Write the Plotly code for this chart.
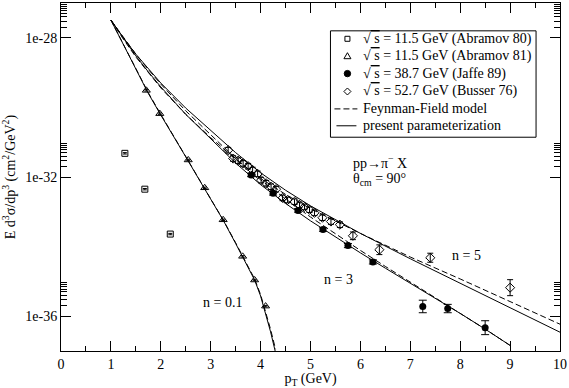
import plotly.graph_objects as go

FONT = "Liberation Serif, Times New Roman, serif"

# ---- data ----
# Abramov 80, sqrt(s)=11.5 GeV
ab80_pt = [1.28, 1.68, 2.19]
ab80_log = [-31.32, -32.35, -33.64]
# Abramov 81, sqrt(s)=11.5 GeV
ab81_pt = [1.71, 1.98, 2.55, 2.88, 3.25, 3.64, 3.88, 4.10]
ab81_log = [-29.51, -30.18, -31.51, -32.31, -33.23, -34.28, -34.96, -35.71]
# Jaffe 89, sqrt(s)=38.7 GeV
jaf_pt = [3.81, 4.25, 4.75, 5.25, 5.75, 6.25, 7.25, 7.75, 8.5]
jaf_log = [-31.94, -32.47, -32.96, -33.51, -33.97, -34.44, -35.72, -35.78, -36.33]
jaf_err = [0.05, 0.05, 0.05, 0.05, 0.06, 0.06, 0.18, 0.12, 0.20]
# Busser 76, sqrt(s)=52.7 GeV
bus_pt = [3.35, 3.45, 3.55, 3.65, 3.75, 3.84, 3.94, 4.01, 4.11, 4.21, 4.31, 4.44, 4.54,
          4.68, 4.78, 4.88, 4.98, 5.08, 5.24, 5.41, 5.59, 5.85, 6.38, 7.4, 9.0]
bus_log = [-31.23, -31.47, -31.53, -31.61, -31.69, -31.80, -31.91, -32.09, -32.18, -32.28,
           -32.35, -32.60, -32.66, -32.71, -32.80, -32.86, -32.94, -33.03, -33.17, -33.28,
           -33.37, -33.69, -34.09, -34.32, -35.18]
bus_err = [0.08] * 21 + [0.11, 0.14, 0.13, 0.23]

# curves n = 0.1
n01_pt = [1.0, 1.25, 1.5, 1.75, 2.0, 2.25, 2.5, 2.75, 3.0, 3.25, 3.5, 3.75, 3.88, 4.0, 4.1, 4.2, 4.3]
n01_solid_log = [-27.49, -28.2, -28.9, -29.6, -30.22, -30.84, -31.42, -32.03, -32.64, -33.24,
                 -33.91, -34.58, -34.96, -35.42, -35.9, -36.45, -37.05]
n01_dash_log = [-27.49, -28.19, -28.89, -29.58, -30.2, -30.82, -31.41, -32.02, -32.63, -33.23,
                -33.89, -34.55, -34.93, -35.38, -35.85, -36.38, -36.95]
# curves n = 3
n3_pt = [1.0, 1.25, 1.5, 1.75, 2.0, 2.5, 3.0, 3.5, 4.0, 4.5, 5.0, 5.5, 6.0, 6.5, 7.0, 7.5, 8.0, 8.5, 9.0]
n3_solid_log = [-27.49, -28.02, -28.52, -28.98, -29.41, -30.2, -30.91, -31.6, -32.22, -32.76,
                -33.26, -33.73, -34.18, -34.62, -35.05, -35.48, -35.92, -36.37, -36.84]
n3_dash_log = [-27.49, -27.99, -28.47, -28.91, -29.33, -30.1, -30.79, -31.47, -32.08, -32.63,
               -33.15, -33.64, -34.11, -34.57, -35.02, -35.46, -35.91, -36.37, -36.84]
# curves n = 5
n5_pt = [1.0, 1.25, 1.5, 1.75, 2.0, 2.5, 3.0, 3.5, 4.0, 4.5, 5.0, 6.0, 7.0, 8.0, 9.0, 10.0]
n5_solid_log = [-27.49, -28.0, -28.47, -28.9, -29.3, -30.02, -30.67, -31.3, -31.88, -32.38,
                -32.83, -33.62, -34.35, -35.05, -35.75, -36.46]
n5_dash_log = [-27.49, -28.04, -28.55, -29.01, -29.44, -30.2, -30.87, -31.49, -32.04, -32.5,
               -32.91, -33.62, -34.3, -34.93, -35.57, -36.23]

y_tick_vals = [1e-36, 1e-32, 1e-28]
y_tick_text = ["1e-36", "1e-32", "1e-28"]
x_tick_vals = list(range(0, 11))

SQ = "√<span style='text-decoration:overline'> s</span>"
legend_labels = [SQ + " = 11.5 GeV (Abramov 80)", SQ + " = 11.5 GeV (Abramov 81)",
                 SQ + " = 38.7 GeV (Jaffe 89)", SQ + " = 52.7 GeV (Busser 76)",
                 "Feynman-Field model", "present parameterization"]


def lin(logs):
    return [10 ** v for v in logs]


def errs(logs, e):
    up = [10 ** v * (10 ** d - 1) for v, d in zip(logs, e)]
    dn = [10 ** v * (1 - 10 ** (-d)) for v, d in zip(logs, e)]
    return up, dn


fig = go.Figure()

SOLID = dict(color="black", width=1)
DASH = dict(color="black", width=1, dash="6px,3px")

# curves
for xs, ys, ln in [(n01_pt, n01_dash_log, DASH), (n3_pt, n3_dash_log, DASH), (n5_pt, n5_dash_log, DASH),
                   (n01_pt, n01_solid_log, SOLID), (n3_pt, n3_solid_log, SOLID),
                   (n5_pt, n5_solid_log, SOLID)]:
    fig.add_trace(go.Scatter(x=xs, y=lin(ys), mode="lines", line=ln, showlegend=False,
                             hoverinfo="skip"))

a80u, a80d = errs(ab80_log, [0.02] * len(ab80_log))
fig.add_trace(go.Scatter(
    x=ab80_pt, y=lin(ab80_log), mode="markers", name=legend_labels[0], showlegend=False,
    marker=dict(symbol="square-open", size=6, color="black", line=dict(width=1)),
    error_y=dict(type="data", symmetric=False, array=a80u, arrayminus=a80d,
                 color="black", thickness=1, width=2)))
a81u, a81d = errs(ab81_log, [0.02] * len(ab81_log))
fig.add_trace(go.Scatter(
    x=ab81_pt, y=lin(ab81_log), mode="markers", name=legend_labels[1], showlegend=False,
    marker=dict(symbol="triangle-up-open", size=7, color="black", line=dict(width=1)),
    error_y=dict(type="data", symmetric=False, array=a81u, arrayminus=a81d,
                 color="black", thickness=1, width=2)))
ju, jd = errs(jaf_log, jaf_err)
fig.add_trace(go.Scatter(
    x=jaf_pt, y=lin(jaf_log), mode="markers", name=legend_labels[2], showlegend=False,
    marker=dict(symbol="circle", size=7, color="black"),
    error_y=dict(type="data", symmetric=False, array=ju, arrayminus=jd, color="black",
                 thickness=1, width=4)))
bu, bd = errs(bus_log, bus_err)
fig.add_trace(go.Scatter(
    x=bus_pt, y=lin(bus_log), mode="markers", name=legend_labels[3], showlegend=False,
    marker=dict(symbol="diamond-open", size=7, color="black", line=dict(width=1)),
    error_y=dict(type="data", symmetric=False, array=bu, arrayminus=bd, color="black",
                 thickness=1, width=3)))

minor_y = [k * v for v in y_tick_vals for k in range(2, 10)]

fig.update_layout(
    width=569, height=388,
    margin=dict(l=61, r=8, t=2, b=36),
    paper_bgcolor="white", plot_bgcolor="white",
    font=dict(family=FONT, size=14, color="black"),
    showlegend=False,
    xaxis=dict(range=[0, 10], tickmode="array", tickvals=x_tick_vals,
               ticks="inside", ticklen=10, tickwidth=1, tickcolor="black",
               showline=True, linecolor="black", linewidth=1, mirror="allticks",
               showgrid=False, zeroline=False,
               minor=dict(dtick=0.5, tick0=0, ticks="inside", ticklen=5, tickcolor="black",
                          showgrid=False),
               title=dict(text="p<sub>T</sub> (GeV)", standoff=4, font=dict(size=14))),
    yaxis=dict(type="log", range=[-37, -27], tickmode="array", tickvals=y_tick_vals,
               ticktext=y_tick_text,
               ticks="inside", ticklen=10, tickwidth=1, tickcolor="black",
               showline=True, linecolor="black", linewidth=1, mirror="allticks",
               showgrid=False, zeroline=False,
               minor=dict(tickmode="array", tickvals=minor_y, ticks="inside", ticklen=6,
                          tickcolor="black", showgrid=False),
               title=dict(text="E d<sup>3</sup>σ/dp<sup>3</sup> (cm<sup>2</sup>/GeV<sup>2</sup>)",
                          standoff=7, font=dict(size=14))),
)

# ---- legend box (drawn as layout decoration) ----
def px_x(p):  # pixel -> paper x
    return (p - 61) / 500.0


def px_y(p):  # pixel -> paper y
    return (352 - p) / 350.0


fig.add_shape(type="rect", xref="paper", yref="paper", x0=px_x(331), x1=px_x(537),
              y0=px_y(137), y1=px_y(30), line=dict(color="black", width=1),
              fillcolor="white", layer="above")
row_y = [38, 55.5, 73, 91, 108.5, 125.5]
sym_x = px_x(348)
# key symbols
fig.add_shape(type="rect", xref="paper", yref="paper", xsizemode="pixel", ysizemode="pixel",
              xanchor=sym_x, yanchor=px_y(row_y[0]), x0=-2.5, x1=2.5, y0=-2.5, y1=2.5,
              line=dict(color="black", width=1), layer="above")
fig.add_shape(type="path", xref="paper", yref="paper", xsizemode="pixel", ysizemode="pixel",
              xanchor=sym_x, yanchor=px_y(row_y[1]), path="M -3.5 -2.5 L 3.5 -2.5 L 0 3.5 Z",
              line=dict(color="black", width=1), layer="above")
fig.add_shape(type="circle", xref="paper", yref="paper", xsizemode="pixel", ysizemode="pixel",
              xanchor=sym_x, yanchor=px_y(row_y[2]), x0=-3.2, x1=3.2, y0=-3.2, y1=3.2,
              line=dict(color="black", width=1), fillcolor="black", layer="above")
fig.add_shape(type="path", xref="paper", yref="paper", xsizemode="pixel", ysizemode="pixel",
              xanchor=sym_x, yanchor=px_y(row_y[3]), path="M 0 3.5 L 3.5 0 L 0 -3.5 L -3.5 0 Z",
              line=dict(color="black", width=1), layer="above")
fig.add_shape(type="line", xref="paper", yref="paper", x0=px_x(335), x1=px_x(358),
              y0=px_y(row_y[4]), y1=px_y(row_y[4]), line=DASH, layer="above")
fig.add_shape(type="line", xref="paper", yref="paper", x0=px_x(337), x1=px_x(357),
              y0=px_y(row_y[5]), y1=px_y(row_y[5]), line=SOLID, layer="above")
for lab, ry in zip(legend_labels, row_y):
    fig.add_annotation(x=px_x(362), y=px_y(ry), xref="paper", yref="paper", text=lab,
                       showarrow=False, xanchor="left", yanchor="middle",
                       font=dict(size=14))

fig.add_annotation(x=5.82, y=-31.56, xref="x", yref="y", text="pp→π<sup>−</sup> X",
                   showarrow=False, xanchor="left", font=dict(size=14))
fig.add_annotation(x=5.82, y=-32.07, xref="x", yref="y", text="θ<sub>cm</sub> = 90°",
                   showarrow=False, xanchor="left", font=dict(size=14))
fig.add_annotation(x=8.12, y=-34.26, xref="x", yref="y", text="n = 5", showarrow=False,
                   font=dict(size=14))
fig.add_annotation(x=5.56, y=-34.94, xref="x", yref="y", text="n = 3", showarrow=False,
                   font=dict(size=14))
fig.add_annotation(x=3.24, y=-35.6, xref="x", yref="y", text="n = 0.1", showarrow=False,
                   font=dict(size=14))

fig.write_html("out.html", config={"displayModeBar": False},
               post_script="document.body.style.margin='0';"
                           "document.documentElement.style.overflow='hidden';")
